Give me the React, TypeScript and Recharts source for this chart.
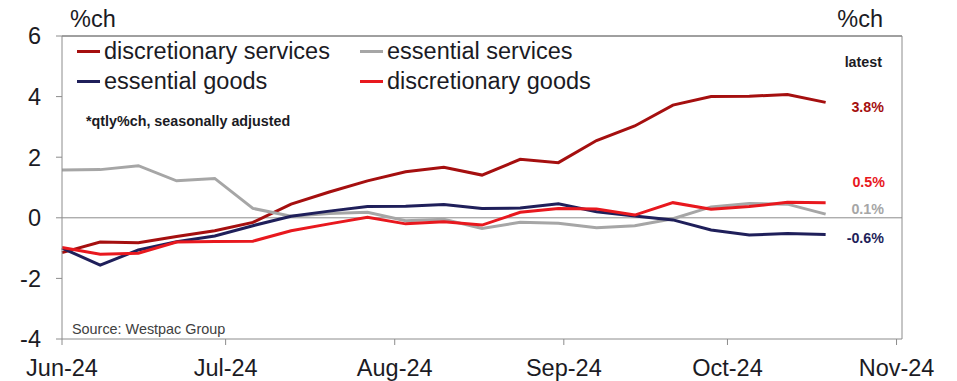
import {
	LineChart,
	Line,
	XAxis,
	YAxis,
	ReferenceLine,
} from "recharts";

// weekly observations (week ending)
const weeks = [
	"2024-06-01", "2024-06-08", "2024-06-15", "2024-06-22", "2024-06-29",
	"2024-07-06", "2024-07-13", "2024-07-20", "2024-07-27", "2024-08-03",
	"2024-08-10", "2024-08-17", "2024-08-24", "2024-08-31", "2024-09-07",
	"2024-09-14", "2024-09-21", "2024-09-28", "2024-10-05", "2024-10-12",
	"2024-10-19",
];

const discretionaryServices = [
	-1.15, -0.8, -0.82, -0.62, -0.43, -0.15, 0.45, 0.85, 1.22, 1.52, 1.67,
	1.41, 1.93, 1.82, 2.55, 3.03, 3.72, 4.0, 4.01, 4.07, 3.81,
];
const essentialServices = [
	1.58, 1.59, 1.72, 1.22, 1.3, 0.31, 0.05, 0.14, 0.18, -0.1, -0.05,
	-0.35, -0.15, -0.18, -0.33, -0.26, -0.03, 0.36, 0.47, 0.45, 0.12,
];
const essentialGoods = [
	-1.0, -1.56, -1.06, -0.79, -0.6, -0.26, 0.05, 0.22, 0.37, 0.38, 0.44,
	0.31, 0.32, 0.46, 0.2, 0.06, -0.07, -0.4, -0.57, -0.52, -0.55,
];
const discretionaryGoods = [
	-0.98, -1.2, -1.17, -0.8, -0.78, -0.77, -0.43, -0.2, 0.02, -0.2, -0.13,
	-0.24, 0.18, 0.31, 0.29, 0.09, 0.5, 0.28, 0.37, 0.51, 0.5,
];

const monthTicks = ["2024-06-01", "2024-07-01", "2024-08-01", "2024-09-01", "2024-10-01", "2024-11-01"];
const monthLabels = ["Jun-24", "Jul-24", "Aug-24", "Sep-24", "Oct-24", "Nov-24"];
const yTicks = [-4, -2, 0, 2, 4, 6];

const series = [
	{ key: "ds", name: "discretionary services", color: "#a50f0f", values: discretionaryServices, latest: "3.8%" },
	{ key: "es", name: "essential services", color: "#a6a6a6", values: essentialServices, latest: "0.1%" },
	{ key: "eg", name: "essential goods", color: "#1f1f5a", values: essentialGoods, latest: "-0.6%" },
	{ key: "dg", name: "discretionary goods", color: "#e8181e", values: discretionaryGoods, latest: "0.5%" },
];

const toTime = (d: string) => new Date(d + "T00:00:00Z").getTime();

const data = weeks.map((w, i) => {
	const row: Record<string, number> = { t: toTime(w) };
	series.forEach((s) => {
		row[s.key] = s.values[i];
	});
	return row;
});

const tickTimes = monthTicks.map(toTime);
const FONT = "'Liberation Sans', Arial, sans-serif";
const TEXT = "#1b1b24";
const BIG = 23.5;

function LegendBox() {
	const rows = [
		[series[0], series[1]],
		[series[2], series[3]],
	];
	return (
		<div style={{ position: "absolute", left: 77, top: 36, fontFamily: FONT, fontSize: BIG, color: TEXT, lineHeight: "30px" }}>
			{rows.map((r, ri) => (
				<div key={ri} style={{ display: "flex" }}>
					{r.map((s) => (
						<div key={s.key} style={{ display: "flex", alignItems: "center", width: 283 }}>
							<span style={{ display: "inline-block", width: 23, height: 3, background: s.color, marginRight: 4 }} />
							<span>{s.name}</span>
						</div>
					))}
				</div>
			))}
		</div>
	);
}

export default function App() {
	const note = { position: "absolute" as const, fontFamily: FONT, fontWeight: 700, fontSize: 14.3 };
	const tick = { fill: TEXT, fontSize: BIG, fontFamily: FONT };
	return (
		<div style={{ position: "absolute", left: 0, top: 0, width: 957, height: 381, background: "#fff" }}>
			<LineChart
				width={957}
				height={381}
				data={data}
				margin={{ top: 36, right: 0, bottom: 0, left: 0 }}
			>
				<XAxis
					dataKey="t"
					type="number"
					domain={[toTime("2024-06-01"), toTime("2024-11-02")]}
					ticks={tickTimes}
					tickFormatter={(v: number) => monthLabels[tickTimes.indexOf(v)] ?? ""}
					height={42}
					tickSize={6}
					tickMargin={14}
					stroke="#8c8c8c"
					tick={tick}
					interval={0}
				/>
				<YAxis
					yAxisId="left"
					domain={[-4, 6]}
					ticks={yTicks}
					width={62}
					tickSize={6}
					tickMargin={15}
					stroke="#8c8c8c"
					tick={tick}
					interval={0}
				/>
				<YAxis
					yAxisId="right"
					orientation="right"
					domain={[-4, 6]}
					ticks={yTicks}
					width={55}
					tickSize={6}
					tickMargin={15}
					stroke="#8c8c8c"
					tick={tick}
					interval={0}
				/>
				<ReferenceLine yAxisId="left" y={6} stroke="#404040" strokeWidth={1} />
				<ReferenceLine yAxisId="left" y={0} stroke="#8c8c8c" strokeWidth={1} />
				{series.map((s) => (
					<Line
						key={s.key}
						yAxisId="left"
						dataKey={s.key}
						name={s.name}
						stroke={s.color}
						strokeWidth={3}
						dot={false}
						isAnimationActive={false}
						type="linear"
					/>
				))}
			</LineChart>
			<LegendBox />
			<div style={{ position: "absolute", left: 70, top: 6, fontFamily: FONT, fontSize: BIG, color: TEXT }}>%ch</div>
			<div style={{ position: "absolute", right: 74, top: 6, fontFamily: FONT, fontSize: BIG, color: TEXT }}>%ch</div>
			<div style={{ ...note, left: 86, top: 113, color: TEXT }}>*qtly%ch, seasonally adjusted</div>
			<div style={{ ...note, right: 75, top: 54, color: TEXT }}>latest</div>
			<div style={{ ...note, right: 73, top: 99, color: series[0].color }}>{series[0].latest}</div>
			<div style={{ ...note, right: 72, top: 174, color: series[3].color }}>{series[3].latest}</div>
			<div style={{ ...note, right: 73, top: 201, color: series[1].color }}>{series[1].latest}</div>
			<div style={{ ...note, right: 73, top: 230, color: series[2].color }}>{series[2].latest}</div>
			<div style={{ position: "absolute", left: 72, top: 321, fontFamily: FONT, fontSize: 14.4, color: "#404040" }}>
				Source: Westpac Group
			</div>
		</div>
	);
}
